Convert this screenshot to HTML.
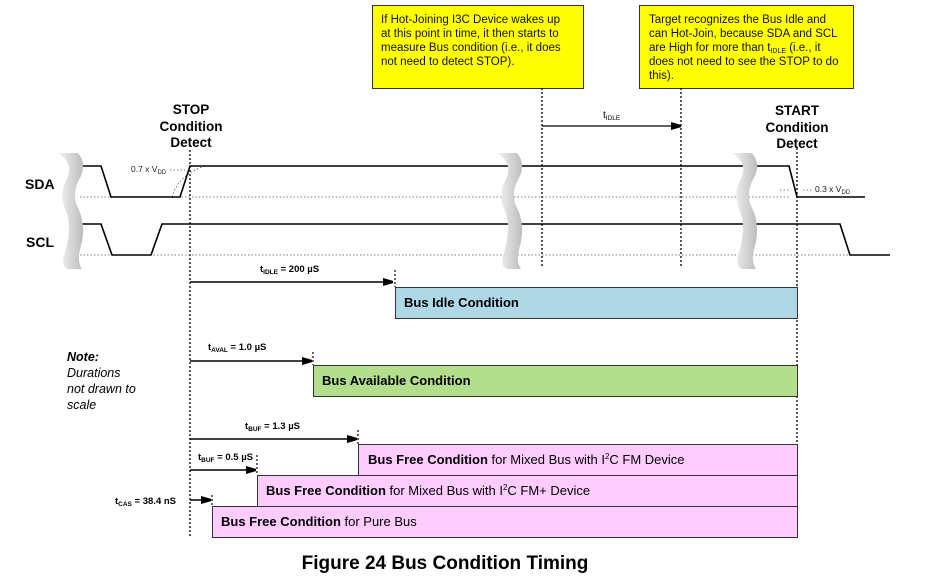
<!DOCTYPE html>
<html><head><style>
html,body{margin:0;padding:0;background:#fff;}
svg{display:block;font-family:"Liberation Sans",Arial,sans-serif;}
</style></head><body>
<svg width="925" height="586" viewBox="0 0 925 586" xmlns="http://www.w3.org/2000/svg">
<defs>
<marker id="ar" markerWidth="10" markerHeight="8" refX="10" refY="4" orient="auto" markerUnits="userSpaceOnUse">
<path d="M0,0 L14,4 L0,8 Z" fill="#000"/></marker>
<linearGradient id="g" x1="0" x2="1"><stop offset="0" stop-color="#f4f4f4"/><stop offset="0.5" stop-color="#d8d8d8"/><stop offset="1" stop-color="#bdbdbd"/></linearGradient>
<path id="brk" d="M0,0 C12,8 14,16 8,28 C2,40 4,48 8,58 C14,73 10,88 6,103 C4,110 6,114 10,116 L24,116 C20,110 20,103 23,93 C27,78 25,63 19,53 C15,43 17,33 23,23 C27,13 25,6 20,0 Z"/>
</defs>
<rect x="372.5" y="5.5" width="211" height="83" fill="#ffff00" stroke="#333" stroke-width="1"/>
<text font-size="11.5" fill="#111"><tspan x="381" y="23">If Hot-Joining I3C Device wakes up</tspan><tspan x="381" y="37">at this point in time, it then starts to</tspan><tspan x="381" y="51">measure Bus condition (i.e., it does</tspan><tspan x="381" y="65">not need to detect STOP).</tspan></text>
<rect x="639.5" y="5.5" width="214" height="83" fill="#ffff00" stroke="#333" stroke-width="1"/>
<text font-size="11.5" fill="#111"><tspan x="649" y="23">Target recognizes the Bus Idle and</tspan><tspan x="649" y="37">can Hot-Join, because SDA and SCL</tspan><tspan x="649" y="51">are High for more than t<tspan font-size="7" dy="2">IDLE</tspan><tspan dy="-2"> (i.e., it</tspan></tspan><tspan x="649" y="65">does not need to see the STOP to do</tspan><tspan x="649" y="79">this).</tspan></text>
<g stroke="#000" stroke-width="1.3" stroke-dasharray="2,2">
<line x1="542" y1="88" x2="542" y2="266"/>
<line x1="681" y1="88" x2="681" y2="266"/>
<line x1="190" y1="150" x2="190" y2="537"/>
<line x1="797" y1="148" x2="797" y2="537"/>
</g>
<line x1="542" y1="126" x2="681" y2="126" stroke="#000" stroke-width="1.3" marker-end="url(#ar)"/>
<text x="603" y="118" font-size="10">t<tspan font-size="6.5" dy="2">IDLE</tspan></text>
<g font-size="13.5" font-weight="bold" text-anchor="middle">
<text x="191" y="114">STOP</text><text x="191" y="131">Condition</text><text x="191" y="147">Detect</text>
<text x="797" y="115">START</text><text x="797" y="132">Condition</text><text x="797" y="148">Detect</text>
</g>
<text x="25" y="189" font-size="14" font-weight="bold">SDA</text>
<text x="26" y="247" font-size="14" font-weight="bold">SCL</text>
<g stroke="#555" stroke-width="0.8" stroke-dasharray="1.5,2">
<line x1="80" y1="197" x2="790" y2="197"/>
<line x1="80" y1="255" x2="850" y2="255"/>
<line x1="170" y1="170" x2="185" y2="170"/>
<path d="M172,197 Q178,175 205,166" fill="none"/>
<line x1="780" y1="190" x2="790" y2="190"/>
<line x1="803" y1="190" x2="812" y2="190"/>
</g>
<text x="131" y="172" font-size="8.5" fill="#222">0.7 x V<tspan font-size="6" dy="2">DD</tspan></text>
<text x="815" y="192" font-size="8.5" fill="#222">0.3 x V<tspan font-size="6" dy="2">DD</tspan></text>
<g fill="none" stroke="#000" stroke-width="1.6">
<polyline points="75,166 101,166 111,197 180,197 190,166 789,166 797,197 865,197"/>
<polyline points="75,224 101,224 112,255 151,255 162,224 840,224 850,255 890,255"/>
</g>
<g fill="url(#g)">
<use href="#brk" x="58" y="153"/>
<use href="#brk" x="497" y="153"/>
<use href="#brk" x="732" y="153"/>
</g>
<g stroke="#333" stroke-width="1">
<rect x="395.5" y="287.5" width="402" height="31" fill="#aed8e6"/>
<rect x="313.5" y="365.5" width="484" height="31" fill="#b3df8d"/>
<rect x="358.5" y="444.5" width="439" height="31" fill="#ffccff"/>
<rect x="257.5" y="475.5" width="540" height="31" fill="#ffccff"/>
<rect x="212.5" y="506.5" width="585" height="31" fill="#ffccff"/>
</g>
<g font-size="13">
<text x="404" y="307" font-weight="bold">Bus Idle Condition</text>
<text x="322" y="385" font-weight="bold">Bus Available Condition</text>
<text x="368" y="464"><tspan font-weight="bold">Bus Free Condition</tspan> for Mixed Bus with I<tspan font-size="8" dy="-5">2</tspan><tspan dy="5">C FM Device</tspan></text>
<text x="266" y="495"><tspan font-weight="bold">Bus Free Condition</tspan> for Mixed Bus with I<tspan font-size="8" dy="-5">2</tspan><tspan dy="5">C FM+ Device</tspan></text>
<text x="221" y="526"><tspan font-weight="bold">Bus Free Condition</tspan> for Pure Bus</text>
</g>
<g stroke="#000" stroke-width="1.6">
<line x1="190" y1="282" x2="393" y2="282" marker-end="url(#ar)"/>
<line x1="190" y1="361" x2="312" y2="361" marker-end="url(#ar)"/>
<line x1="190" y1="439" x2="357" y2="439" marker-end="url(#ar)"/>
<line x1="190" y1="470" x2="256" y2="470" marker-end="url(#ar)"/>
<line x1="190" y1="500" x2="211" y2="500" marker-end="url(#ar)"/>
</g>
<g stroke="#000" stroke-width="1.2" stroke-dasharray="2,2">
<line x1="395" y1="270" x2="395" y2="287"/>
<line x1="313" y1="352" x2="313" y2="365"/>
<line x1="358" y1="430" x2="358" y2="444"/>
<line x1="257" y1="455" x2="257" y2="475"/>
<line x1="212" y1="495" x2="212" y2="506"/>
</g>
<g font-size="9.5" font-weight="bold">
<text x="260" y="272">t<tspan font-size="6.5" dy="2">IDLE</tspan><tspan dy="-2"> = 200 µS</tspan></text>
<text x="208" y="350">t<tspan font-size="6.5" dy="2">AVAL</tspan><tspan dy="-2"> = 1.0 µS</tspan></text>
<text x="245" y="429">t<tspan font-size="6.5" dy="2">BUF</tspan><tspan dy="-2"> = 1.3 µS</tspan></text>
<text x="198" y="460">t<tspan font-size="6.5" dy="2">BUF</tspan><tspan dy="-2"> = 0.5 µS</tspan></text>
<text x="115" y="504">t<tspan font-size="6.5" dy="2">CAS</tspan><tspan dy="-2"> = 38.4 nS</tspan></text>
</g>
<g font-size="12.5" font-style="italic">
<text x="67" y="361" font-weight="bold">Note:</text>
<text x="67" y="377">Durations</text>
<text x="67" y="393">not drawn to</text>
<text x="67" y="409">scale</text>
</g>
<text x="445" y="569" font-size="19" font-weight="bold" text-anchor="middle">Figure 24 Bus Condition Timing</text>
</svg>
</body></html>
